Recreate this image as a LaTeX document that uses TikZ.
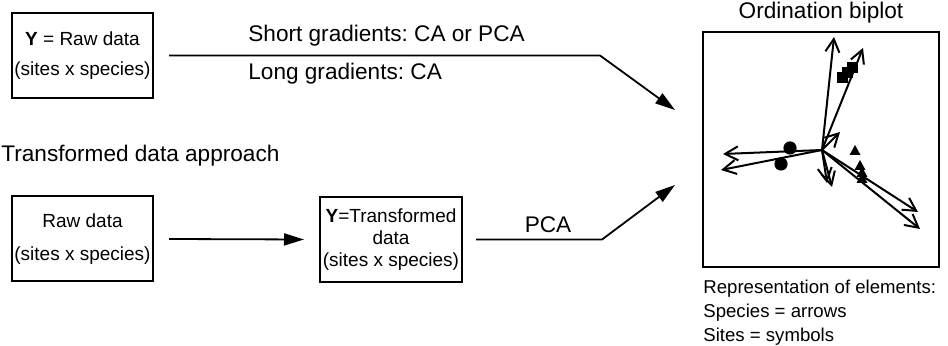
\documentclass[tikz,border=0pt]{standalone}
\usepackage{fontspec}
\setmainfont{Liberation Sans}
\usetikzlibrary{arrows.meta}
\frenchspacing

\begin{document}
\begin{tikzpicture}[x=0.5pt,y=-0.5pt,
        box/.style={draw,line width=1pt,inner sep=0pt,align=center,minimum width=70.5pt,minimum height=42.5pt,font=\fontsize{9.5}{15}\selectfont},
        lbl/.style={inner sep=0pt,font=\fontsize{11.3}{13.5}\selectfont},
        flow/.style={line width=0.9pt,-{Triangle[length=10pt,width=6pt]}},
        spc/.style={line width=1pt,-{Straight Barb[length=6.5pt,width=7pt]}}]
        \useasboundingbox (0,0) rectangle (948,346);
        % boxes
        \node[box] (yraw) at (82.5,55.5) {\textbf{Y} = Raw data\\(sites x species)};
        \node[box,font=\fontsize{9.5}{16.5}\selectfont] (rawdata) at (82.5,239) {Raw data\\(sites x species)};
        \node[box,minimum width=71pt,font=\fontsize{9.5}{11.2}\selectfont] (ytrans) at (391,239.5) {\textbf{Y}=Transformed\\data\\(sites x species)};
        \node[draw,line width=1pt,minimum width=118pt,minimum height=117.5pt] (biplot) at (821,149.5) {};
        % labels
        \node[lbl,anchor=base west] (lblshort) at (248,42) {Short gradients: CA or PCA};
        \node[lbl,anchor=base west] (lbllong) at (248,80) {Long gradients: CA};
        \node[lbl,anchor=base west] (lbltrans) at (1,162) {Transformed data approach};
        \node[lbl,anchor=base] (lblpca) at (548,233) {PCA};
        \node[lbl,anchor=base] (lbltitle) at (821,19) {Ordination biplot};
        \node[anchor=north west,inner sep=0pt,align=left,font=\fontsize{9.3}{12}\selectfont] (legend) at (703,280) {Representation of elements:\\Species = arrows\\Sites = symbols};
        % connectors
        \coordinate (k1) at (600,55.5);
        \coordinate (t1) at (675,110);
        \coordinate (k2) at (602,239.5);
        \coordinate (t2) at (675,185);
        \draw[flow] ([xshift=7.5pt]yraw.east) -- (k1) -- (t1);
        \draw[flow] ([xshift=7.5pt]rawdata.east) -- ([xshift=-7.5pt]ytrans.west);
        \draw[flow] ([xshift=6.5pt]ytrans.east) -- (k2) -- (t2);
        % species arrows
        \coordinate (o) at (822,150);
        \draw[spc] (o) -- (834,37);
        \draw[spc] (o) -- (863,48);
        \draw[spc] (o) -- (840,132);
        \draw[spc] (o) -- (723,154);
        \draw[spc] (o) -- (721,170);
        \draw[spc] (o) -- (827,183);
        \draw[spc] (o) -- (832,187);
        \draw[spc] (o) -- (918,212);
        \draw[spc] (o) -- (920,229);
        % site symbols
        \fill (790,148) circle (3.3pt);
        \fill (781,164) circle (3.3pt);
        \foreach \x/\y in {842/78,847/73,852/68}
            \fill (\x,\y) +(-5.5,-5.5) rectangle +(5.5,5.5);
        \foreach \x/\y in {855/150,860/165,862/172,862/178}
            \fill (\x,\y) ++(0,-5) -- ++(5.5,10) -- ++(-11,0) -- cycle;
\end{tikzpicture}
\end{document}
